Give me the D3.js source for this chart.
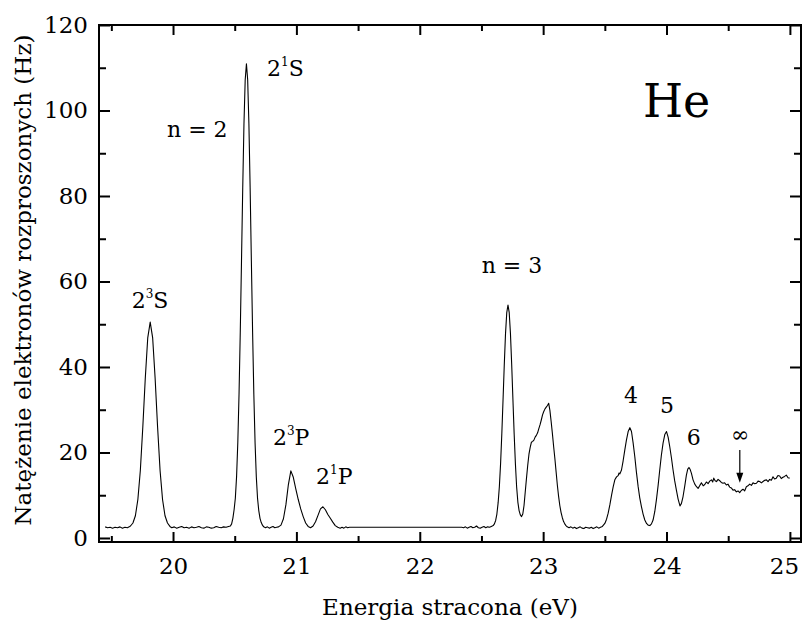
<!DOCTYPE html>
<html>
<head>
<meta charset="utf-8">
<script src="https://cdn.jsdelivr.net/npm/d3@7/dist/d3.min.js"></script>
<style>
  body { margin: 0; background: #fff; }
</style>
</head>
<body>
<div id="wykres"></div>
<script>
// Widmo strat energii elektronow w helu

var CZCIONKA = "'DejaVu Serif', 'Liberation Serif', serif";

// energia stracona (eV)
var energia = [
  19.45, 19.47, 19.49, 19.51, 19.53, 19.55, 19.57, 19.59, 19.61, 19.63, 19.645,
  19.655, 19.675, 19.695, 19.715, 19.735, 19.755, 19.775, 19.795, 19.815,
  19.835, 19.855, 19.875, 19.895, 19.915, 19.935, 19.955, 19.975,
  19.99, 20.01, 20.03, 20.05, 20.07, 20.09, 20.11, 20.13, 20.15, 20.17, 20.19,
  20.21, 20.23, 20.25, 20.27, 20.29, 20.31, 20.33, 20.35, 20.37, 20.39, 20.41,
  20.43, 20.45,
  20.465, 20.475, 20.485, 20.495, 20.505, 20.515, 20.525, 20.535, 20.545,
  20.555, 20.565, 20.575, 20.585, 20.595, 20.605, 20.615, 20.625, 20.635,
  20.645, 20.655, 20.665, 20.675, 20.685, 20.695, 20.705, 20.715, 20.725,
  20.735, 20.75, 20.765, 20.78, 20.795, 20.81, 20.825, 20.84,
  20.855, 20.875, 20.895, 20.915, 20.935, 20.955, 20.975, 20.995, 21.015,
  21.035, 21.055, 21.075, 21.095, 21.115, 21.135, 21.155, 21.175, 21.195,
  21.215, 21.235, 21.255, 21.275, 21.295, 21.315, 21.335, 21.355,
  21.37, 21.385, 21.40, 21.415, 21.43,
  22.34, 22.355, 22.37, 22.385, 22.40, 22.415, 22.43, 22.445, 22.46, 22.475,
  22.49, 22.505, 22.52, 22.535, 22.55, 22.565, 22.58,
  22.595, 22.605, 22.615, 22.625, 22.635, 22.645, 22.655, 22.665, 22.675,
  22.685, 22.695, 22.705, 22.715, 22.725, 22.735, 22.745, 22.755, 22.765,
  22.775, 22.785, 22.795, 22.805, 22.815, 22.825, 22.835, 22.845, 22.855,
  22.865, 22.875, 22.885, 22.895, 22.905, 22.915, 22.925, 22.935, 22.945,
  22.955, 22.965, 22.975, 22.985, 22.995, 23.005, 23.015, 23.025, 23.035,
  23.045, 23.055, 23.065, 23.075, 23.085, 23.095, 23.105, 23.115, 23.125,
  23.135, 23.145, 23.155, 23.165, 23.175, 23.185, 23.195,
  23.21, 23.225, 23.24, 23.255, 23.27, 23.285, 23.30, 23.315, 23.33, 23.345,
  23.36, 23.375, 23.39, 23.405, 23.42, 23.435, 23.45, 23.465, 23.48,
  23.50, 23.514, 23.527, 23.541, 23.555, 23.568, 23.581, 23.595, 23.608,
  23.615, 23.622, 23.635, 23.648, 23.662, 23.675, 23.689, 23.703, 23.716,
  23.729, 23.743, 23.756, 23.77, 23.783, 23.797, 23.81, 23.824, 23.838,
  23.851, 23.865, 23.878, 23.891, 23.905, 23.918, 23.932, 23.945, 23.958,
  23.972, 23.986, 24.0, 24.013, 24.026, 24.04, 24.053, 24.066, 24.08,
  24.094, 24.109, 24.121, 24.134, 24.148, 24.161, 24.172, 24.182, 24.192,
  24.202, 24.215, 24.229, 24.243, 24.256, 24.27, 24.283, 24.297, 24.31,
  24.323, 24.337, 24.35, 24.364, 24.374, 24.383, 24.394, 24.405, 24.418,
  24.431, 24.444, 24.458, 24.471, 24.485, 24.498, 24.512, 24.525, 24.539,
  24.552, 24.566, 24.58, 24.593, 24.606, 24.62, 24.633, 24.647, 24.66,
  24.674, 24.688, 24.701, 24.715, 24.729, 24.742, 24.755, 24.769, 24.782,
  24.796, 24.81, 24.823, 24.836, 24.85, 24.863, 24.876, 24.89, 24.903,
  24.917, 24.93, 24.944, 24.957, 24.971, 24.985, 24.998
];

// natezenie (Hz)
var natezenie = [
  2.6, 2.4, 2.5, 2.3, 2.5, 2.4, 2.6, 2.3, 2.5, 2.4, 2.6,
  2.8, 3.5, 5.2, 9.0, 15.8, 25.9, 37.3, 46.8, 50.5,
  46.8, 37.3, 25.9, 15.8, 9.0, 5.2, 3.5, 2.7,
  2.4, 2.6, 2.3, 2.5, 2.7, 2.4, 2.5, 2.3, 2.6, 2.4, 2.5,
  2.7, 2.4, 2.3, 2.6, 2.5, 2.3, 2.4, 2.7, 2.5, 2.4, 2.6,
  2.5, 2.7,
  2.8, 3.3, 4.6, 6.6, 9.3, 14.3, 22.3, 33.6, 48.1,
  64.8, 81.9, 96.9, 107.2, 110.9, 107.2, 96.9, 81.9, 64.8,
  48.1, 33.6, 22.3, 14.3, 9.3, 6.4, 4.6, 3.6, 3.0,
  2.6, 2.4, 2.6, 2.3, 2.5, 2.7, 2.4, 2.5,
  2.6, 3.0, 4.5, 7.8, 12.5, 15.7, 14.2, 11.5, 9.0,
  6.8, 5.0, 3.5, 2.7, 2.4, 2.8, 3.8, 5.3, 6.8,
  7.3, 6.6, 5.5, 4.6, 3.7, 2.9, 2.5, 2.3,
  2.5, 2.3, 2.6, 2.4, 2.5,
  2.5, 2.4, 2.6, 2.3, 2.5, 2.7, 2.4, 2.5, 2.8, 2.4,
  2.3, 2.5, 2.7, 2.4, 2.6, 2.5, 2.7,
  2.9, 3.3, 4.1, 5.6, 8.2, 12.0, 17.4, 24.4, 32.4,
  40.6, 47.8, 52.7, 54.5, 52.7, 47.8, 40.6, 32.4, 24.4,
  17.4, 12.0, 8.4, 6.4, 5.4, 5.0, 5.6, 7.6, 10.8,
  14.0, 17.0, 19.6, 21.2, 22.4, 22.6, 22.9, 23.6, 24.0,
  24.6, 25.6, 26.5, 27.6, 28.8, 29.6, 30.2, 30.6, 31.0,
  31.5, 29.8, 27.2, 24.4, 21.4, 18.6, 15.5, 12.4, 9.8,
  7.6, 6.0, 4.8, 3.9, 3.3, 2.9, 2.6,
  2.4, 2.6, 2.3, 2.5, 2.2, 2.4, 2.6, 2.3, 2.2, 2.5,
  2.4, 2.3, 2.5, 2.2, 2.4, 2.6, 2.3, 2.5, 2.7,
  3.4, 4.4, 5.8, 7.8, 10.1, 12.0, 13.6, 14.3, 14.6,
  15.2, 15.0, 15.9, 18.0, 20.6, 22.9, 24.9, 25.8, 24.9,
  22.3, 19.0, 15.4, 12.0, 9.4, 7.3, 5.6, 4.2, 3.4,
  3.0, 2.9, 3.3, 4.2, 6.2, 8.9, 12.3, 15.9, 19.3,
  22.2, 24.2, 24.9, 23.6, 21.4, 18.7, 15.9, 13.4, 11.2,
  9.1, 7.5, 8.1, 9.7, 12.2, 14.7, 16.1, 16.5, 16.0,
  15.1, 13.6, 12.6, 12.0, 11.6, 12.3, 12.9, 12.2, 12.5,
  13.1, 12.7, 13.3, 13.6, 13.1, 14.0, 13.4, 13.2, 13.7,
  13.4, 13.0, 12.8, 12.9, 12.4, 12.6, 11.9, 11.7, 11.2,
  11.3, 10.8, 11.0, 10.6, 11.1, 11.4, 11.0, 12.0, 12.2,
  12.6, 12.3, 12.9, 12.7, 12.8, 13.3, 13.2, 12.9, 13.2,
  13.5, 13.6, 13.2, 13.7, 13.5, 14.3, 13.8, 14.0, 14.6,
  14.5, 13.9, 14.2, 14.4, 14.7, 14.1, 14.0
];

var xGlowne = [20, 21, 22, 23, 24, 25];
var xPomocnicze = [19.5, 20.5, 21.5, 22.5, 23.5, 24.5];
var yGlowne = [0, 20, 40, 60, 80, 100, 120];
var yPomocnicze = [10, 30, 50, 70, 90, 110];

// opisy pikow: tekst, indeks gorny, reszta, polozenie w jednostkach wykresu
var opisy = [
  {t: '2', sup: '3', po: 'S', e: 19.665, i: 53.8},
  {t: 'n = 2', sup: '', po: '', e: 19.951, i: 93.9},
  {t: '2', sup: '1', po: 'S', e: 20.762, i: 108.1},
  {t: '2', sup: '3', po: 'P', e: 20.810, i: 21.75},
  {t: '2', sup: '1', po: 'P', e: 21.159, i: 12.6},
  {t: 'n = 3', sup: '', po: '', e: 22.502, i: 61.9},
  {t: '4', sup: '', po: '', e: 23.655, i: 31.6},
  {t: '5', sup: '', po: '', e: 23.947, i: 29.2},
  {t: '6', sup: '', po: '', e: 24.164, i: 21.75},
  {t: '\u221E', sup: '', po: '', e: 24.522, i: 22.4}
];
var strzalka = {e: 24.594, od: 20.6, do: 12.9};

var margin = {top: 25, right: 2, bottom: 80, left: 99};
var width = 803 - margin.left - margin.right;
var height = 622 - margin.top - margin.bottom;

var svg = d3.select('#wykres').append('svg')
    .attr('width', 803)
    .attr('height', 622);

var g = svg.append('g')
    .attr('transform', 'translate(' + margin.left + ',' + margin.top + ')');

var x = d3.scaleLinear().domain([19.4, 25.09]).range([0, width]);
var y = d3.scaleLinear().domain([-0.94, 120]).range([height, 0]);

function styl(os, rozmiar) {
  os.select('.domain').remove();
  os.selectAll('line').attr('stroke', '#000').attr('stroke-width', 2);
  os.attr('font-family', CZCIONKA).attr('font-size', rozmiar);
  os.selectAll('text').attr('fill', '#000');
}

// osie z kreskami do wewnatrz
var osX = g.append('g')
    .attr('transform', 'translate(0,' + height + ')')
    .call(d3.axisBottom(x).tickValues(xGlowne).tickSize(-10).tickPadding(16).tickFormat(d3.format('d')))
    .call(styl, 23);
// ostatni podpis przy samej krawedzi - lekko w lewo
osX.selectAll('text').filter(function(d) { return d === 25; }).attr('dx', -6);

g.append('g')
    .attr('transform', 'translate(0,' + height + ')')
    .call(d3.axisBottom(x).tickValues(xPomocnicze).tickSize(-6).tickFormat(''))
    .call(styl, 23);
g.append('g')
    .call(d3.axisTop(x).tickValues(xGlowne).tickSize(-10).tickFormat(''))
    .call(styl, 23);
g.append('g')
    .call(d3.axisTop(x).tickValues(xPomocnicze).tickSize(-6).tickFormat(''))
    .call(styl, 23);
g.append('g')
    .call(d3.axisLeft(y).tickValues(yGlowne).tickSize(-11).tickPadding(11))
    .call(styl, 23);
g.append('g')
    .call(d3.axisLeft(y).tickValues(yPomocnicze).tickSize(-7).tickFormat(''))
    .call(styl, 23);
g.append('g')
    .attr('transform', 'translate(' + width + ',0)')
    .call(d3.axisRight(y).tickValues(yGlowne).tickSize(-11).tickFormat(''))
    .call(styl, 23);
g.append('g')
    .attr('transform', 'translate(' + width + ',0)')
    .call(d3.axisRight(y).tickValues(yPomocnicze).tickSize(-7).tickFormat(''))
    .call(styl, 23);

// ramka
g.append('rect')
    .attr('x', 0).attr('y', 0)
    .attr('width', width).attr('height', height)
    .attr('fill', 'none')
    .attr('stroke', '#000')
    .attr('stroke-width', 2);

// widmo
var linia = d3.line()
    .x(function(d) { return x(d[0]); })
    .y(function(d) { return y(d[1]); });

g.append('path')
    .datum(d3.zip(energia, natezenie))
    .attr('fill', 'none')
    .attr('stroke', '#000')
    .attr('stroke-width', 1.1)
    .attr('stroke-linejoin', 'round')
    .attr('d', linia);

// opisy
opisy.forEach(function(o) {
  var t = g.append('text')
      .attr('x', x(o.e))
      .attr('y', y(o.i))
      .attr('font-family', CZCIONKA)
      .attr('font-size', 22)
      .text(o.t);
  if (o.sup) {
    t.append('tspan').attr('font-size', 12).attr('dy', -10).text(o.sup);
    t.append('tspan').attr('dy', 10).text(o.po);
  }
});

g.append('text')
    .attr('x', x(23.809))
    .attr('y', y(98.5))
    .attr('font-family', CZCIONKA)
    .attr('font-size', 46)
    .text('He');

// strzalka przy granicy jonizacji
var sx = x(strzalka.e), sy0 = y(strzalka.od), sy1 = y(strzalka.do);
g.append('line')
    .attr('x1', sx).attr('x2', sx)
    .attr('y1', sy0).attr('y2', sy1 - 6)
    .attr('stroke', '#000')
    .attr('stroke-width', 1.2);
g.append('path')
    .attr('d', 'M' + (sx - 3.5) + ',' + (sy1 - 10) + 'L' + (sx + 3.5) + ',' + (sy1 - 10) + 'L' + sx + ',' + sy1 + 'Z')
    .attr('fill', '#000');

// tytuly osi
svg.append('text')
    .attr('x', margin.left + width / 2)
    .attr('y', 615)
    .attr('text-anchor', 'middle')
    .attr('font-family', CZCIONKA)
    .attr('font-size', 23)
    .text('Energia stracona (eV)');

svg.append('text')
    .attr('transform', 'translate(31,280) rotate(-90)')
    .attr('text-anchor', 'middle')
    .attr('font-family', CZCIONKA)
    .attr('font-size', 23)
    .text('Natężenie elektronów rozproszonych (Hz)');
</script>
</body>
</html>
